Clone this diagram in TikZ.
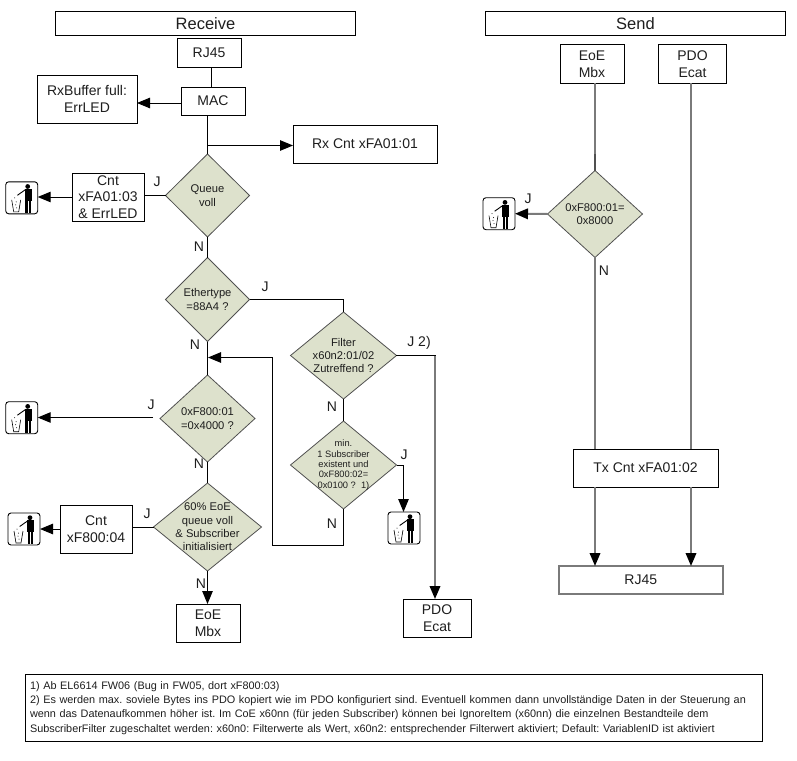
\documentclass[tikz,border=0pt]{standalone}
\usepackage{fontspec}
\setmainfont{Liberation Sans}
\usetikzlibrary{arrows.meta,shapes.geometric,calc}
\frenchspacing
\definecolor{txt}{HTML}{1E1E1E}
\definecolor{dfill}{HTML}{DDE1CC}
\definecolor{dline}{HTML}{505050}
\definecolor{gline}{HTML}{7A7A7A}
\newcommand{\fsT}{\fontsize{16.5}{19}\selectfont}
\newcommand{\fsB}{\fontsize{14}{16.8}\selectfont}
\newcommand{\fsD}{\fontsize{11.2}{13.4}\selectfont}
\newcommand{\fsS}{\fontsize{9.3}{10.4}\selectfont}
\newcommand{\fsF}{\fontsize{10.87}{14.3}\selectfont}
\tikzset{
  x=1pt,y=-1pt,
  every node/.style={text=txt,inner sep=0pt,outer sep=0pt},
  box/.style={draw=black,line width=1pt,rectangle,align=center,font=\fsB},
  titlebox/.style={box,font=\fsT},
  dia/.style={draw=dline,line width=.8pt,fill=dfill,diamond,shape aspect=1},
  diatext/.style={align=center,font=\fsD,text=txt},
  diasmall/.style={align=center,font=\fsS,text=txt},
  lbl/.style={font=\fsB},
  trashbox/.style={draw=black,line width=.9pt,rounded corners=3pt,minimum width=32pt,minimum height=32pt,fill=white},
  conn/.style={draw=black,line width=1pt},
  gconn/.style={draw=gline,line width=2pt},
  arr/.style={-{Triangle[length=13pt,width=10.5pt,color=black]}},
  trashfig/.pic={
    \fill[black] (6,-11.3) circle (2.4);
    \fill[black] (3.2,-8.6) rectangle (9.8,3);
    \fill[black] (3.7,3) rectangle (6.2,15);
    \fill[black] (6.9,3) rectangle (9.4,15);
    \draw[black,line width=.9pt] (3.5,-8) -- (-4.3,-2.5);
    \draw[black,line width=.6pt] (-10,2) -- (-8,14) -- (-3,14) -- (-1,2);
    \fill[black] (-7,0) circle (.5) (-5.5,4) circle (.5) (-6,7) circle (.5) (-5,10) circle (.5);
  }
}
\begin{document}
\begin{tikzpicture}
\useasboundingbox (0,0) rectangle (797,760);

% titles
\node[titlebox,minimum width=300pt,minimum height=24pt] (recv) at (205.5,23.5) {Receive};
\node[titlebox,minimum width=300pt,minimum height=24pt] (send) at (635.5,23.5) {Send};

% receive column
\node[box,minimum width=64pt,minimum height=28pt] (rj) at (209,53) {RJ45};
\node[box,minimum width=64pt,minimum height=28pt] (mac) at (213,101) {MAC};
\node[box,minimum width=100pt,minimum height=48pt] (rxbuf) at (87,99) {RxBuffer full:\\ErrLED};
\node[box,minimum width=144pt,minimum height=38pt] (rxcnt) at (365,144) {Rx Cnt xFA01:01};
\node[dia,minimum width=84pt,minimum height=83pt,label={[diatext]center:{Queue\\voll}}] (queue) at (207.5,195.5) {};
\node[box,minimum width=72pt,minimum height=48pt] (cnt1) at (108,197) {Cnt\\xFA01:03\\\& ErrLED};
\node[trashbox] (t1) at (21.7,197.8) {};
\pic at (t1.center) {trashfig};
\node[dia,minimum width=84pt,minimum height=84pt,label={[diatext]center:{Ethertype\\=88A4 ?}}] (ether) at (207.5,299.5) {};
\node[dia,minimum width=106pt,minimum height=87pt,label={[diatext]center:{Filter\\x60n2:01/02\\Zutreffend ?}}] (filter) at (343.5,355.5) {};
\node[dia,minimum width=106pt,minimum height=88pt,label={[diasmall]center:{min.\\1 Subscriber\\existent und\\0xF800:02=\\0x0100 ?\ \ 1)}}] (minsub) at (343.5,465) {};
\node[trashbox] (t2) at (404,528) {};
\pic at (t2.center) {trashfig};
\node[dia,minimum width=95pt,minimum height=87pt,label={[diatext]center:{0xF800:01\\=0x4000 ?}}] (f800) at (207.5,418.5) {};
\node[trashbox] (t3) at (21.7,417.7) {};
\pic at (t3.center) {trashfig};
\node[dia,minimum width=108pt,minimum height=88pt,label={[diatext]center:{60\% EoE\\queue voll\\\& Subscriber\\initialisiert}}] (sixty) at (207.5,527) {};
\node[box,minimum width=72pt,minimum height=48pt] (cnt2) at (96,529) {Cnt\\xF800:04};
\node[trashbox] (t4) at (24,529) {};
\pic at (t4.center) {trashfig};
\node[box,minimum width=64pt,minimum height=38pt] (eoe1) at (208,623) {EoE\\Mbx};
\node[box,minimum width=68pt,minimum height=38pt] (pdo1) at (437,618) {PDO\\Ecat};

% send column
\node[box,minimum width=64pt,minimum height=38pt] (eoe2) at (592,64) {EoE\\Mbx};
\node[box,minimum width=68pt,minimum height=38pt] (pdo2) at (692.5,64) {PDO\\Ecat};
\node[dia,minimum width=95pt,minimum height=87pt,label={[diatext]center:{0xF800:01=\\0x8000}}] (sdia) at (595,214) {};
\node[trashbox] (t5) at (499,213.7) {};
\pic at (t5.center) {trashfig};
\node[box,minimum width=145pt,minimum height=38pt] (tx) at (645.5,468) {Tx Cnt xFA01:02};
\node[box,draw=gline,line width=1.6pt,minimum width=164pt,minimum height=28pt] (rj2) at (640.8,580) {RJ45};

% footnote
\node[box,align=left,font=\fsF,minimum width=737pt,minimum height=67pt,text width=727pt] (foot) at (393.5,708) {1) Ab EL6614 FW06 (Bug in FW05, dort xF800:03)\\
2) Es werden max. soviele Bytes ins PDO kopiert wie im PDO konfiguriert sind. Eventuell kommen dann unvollständige Daten in der Steuerung an\\
wenn das Datenaufkommen höher ist. Im CoE x60nn (für jeden Subscriber) können bei IgnoreItem (x60nn) die einzelnen Bestandteile dem\\
SubscriberFilter zugeschaltet werden: x60n0: Filterwerte als Wert, x60n2: entsprechender Filterwert aktiviert; Default: VariablenID ist aktiviert};

% free ends and bend points
\coordinate (branch) at (207.5,145.5);
\coordinate (merge) at (208,357.5);
\coordinate (backx) at (272.5,545.5);
\coordinate (f800end) at (153,417.5);
\coordinate (pdojog) at (435,355.5);
\coordinate (minjog) at (403.5,465);
\coordinate (sdark) at (595,154);
\coordinate (pdoline) at (691,64);

% receive connectors
\draw[conn] ([xshift=2.5pt]rj.south) -- ([xshift=2.5pt]rj.south |- mac.north);
\draw[conn,arr] ([yshift=-2pt]mac.west) -- ([yshift=-2pt]mac.west -| rxbuf.east);
\draw[conn] (mac.south -| queue.north) -- (queue.north);
\draw[conn,arr] (branch) -- (branch -| rxcnt.west);
\draw[conn] (queue.west) -- (queue.west -| cnt1.east);
\draw[conn,arr] (cnt1.west) -- (cnt1.west -| t1.east);
\draw[conn] (queue.south) -- (ether.north);
\draw[conn] (ether.east) -| (filter.north);
\draw[conn] (ether.south) -- (f800.north);
\draw[conn] (filter.south) -- (minsub.north);
\draw[conn,line cap=rect] (filter.east) -- (pdojog);
\draw[gconn,arr] (pdojog) -- (pdojog |- pdo1.north);
\draw[conn] (minsub.east) -- (minjog);
\draw[conn,arr] (minjog) -- (minjog |- t2.north);
\draw[conn,arr] (minsub.south) -- (minsub.south |- backx) -- (backx) -- (backx |- merge) -- (merge);
\draw[conn,arr] (f800end) -- (f800end -| t3.east);
\draw[conn] (f800.south) -- (sixty.north);
\draw[conn,arr] (sixty.south) -- (sixty.south |- eoe1.north);
\draw[conn] (sixty.west) -- (sixty.west -| cnt2.east);
\draw[conn,arr] (cnt2.west) -- (t4.east);

% send connectors
\draw[gconn] (eoe2.south -| sdia.north) -- (sdark);
\draw[draw=dline,line width=2pt] (sdark) -- (sdia.north);
\draw[gconn] (sdia.south) -- (sdia.south |- tx.north);
\draw[gconn] (pdo2.south -| pdoline) -- (tx.north -| pdoline);
\draw[gconn,arr] (tx.south -| sdia.south) -- (rj2.north -| sdia.south);
\draw[gconn,arr] (tx.south -| pdoline) -- (rj2.north -| pdoline);
\draw[gconn,arr] (sdia.west) -- (t5.east);

% branch labels
\node[lbl] (j1) at (157,182) {J};
\node[lbl] (n1) at (199,247) {N};
\node[lbl] (j2) at (265,287) {J};
\node[lbl] (n2) at (195,345) {N};
\node[lbl] (j3) at (419,343) {J 2)};
\node[lbl] (n3) at (332,407) {N};
\node[lbl] (j4) at (404,455) {J};
\node[lbl] (n4) at (332,524) {N};
\node[lbl] (j5) at (151,405) {J};
\node[lbl] (n5) at (199,464) {N};
\node[lbl] (j6) at (147,514) {J};
\node[lbl] (n6) at (201,584) {N};
\node[lbl] (j7) at (528,199) {J};
\node[lbl] (n7) at (604,271) {N};
\end{tikzpicture}
\end{document}
